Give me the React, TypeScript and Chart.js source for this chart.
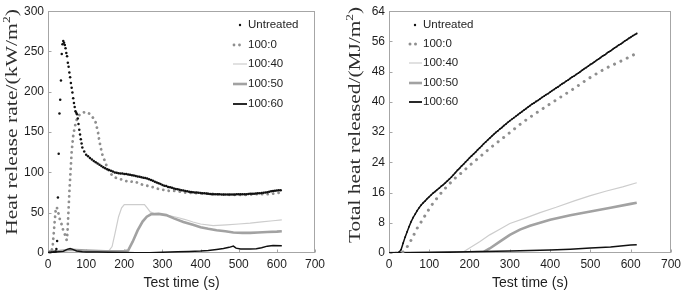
import React, { useEffect, useRef } from "react";
import { Chart, registerables } from "chart.js";
Chart.register(...registerables);

// ---------------- DATA ----------------
const SERIES_LABELS = ["Untreated", "100:0", "100:40", "100:50", "100:60"];
const X_TICK_MAX = 700;
const HRR_Y_MAX = 300;
const THR_Y_MAX = 64;

// Heat release rate (kW/m2)
const HRR_UNTREATED_T = [0, 5, 10, 15, 20, 22, 24, 26, 28, 30, 32, 34, 36, 38, 40, 42, 44, 46, 48, 50, 52, 54, 56, 58, 60, 62, 64, 66, 68, 70, 72, 74, 76, 78, 80, 82, 84, 86, 88,
  90, 95, 100, 105, 110, 115, 120, 125, 130, 135, 140, 145, 150, 155, 160, 165, 170, 175, 180, 185, 190, 195, 200, 205, 210, 215, 220, 225, 230, 235, 240, 245, 250, 255, 260, 265, 270, 275, 280, 285, 290, 295, 300,
  305, 310, 315, 320, 325, 330, 335, 340, 345, 350, 355, 360, 365, 370, 375, 380, 385, 390, 395, 400, 405, 410, 415, 420, 425, 430, 435, 440, 445, 450, 455, 460, 465, 470, 475, 480, 485, 490, 495, 500,
  505, 510, 515, 520, 525, 530, 535, 540, 545, 550, 555, 560, 565, 570, 575, 580, 585, 590, 595, 600, 605, 610];
const HRR_UNTREATED = [0, 0, 0.5, 1, 2, 5, 15, 69, 123, 173, 190, 214, 247, 259, 263, 261, 258, 254, 248, 244, 236, 231, 224, 218, 211, 205, 199, 192, 186, 181, 176, 174, 172, 167, 160, 153, 147, 141, 136,
  131, 126, 122, 120, 118, 116, 114, 112.5, 111, 109.5, 108, 106.5, 105, 104, 103, 102, 101, 100, 99.5, 99, 98.5, 98.5, 98, 98, 97.5, 97, 96.5, 96, 95.5, 95, 94.5, 94, 93.5, 93, 92.5, 91.5, 90.5, 89.5, 88.5, 87.5, 86.5, 85.5, 84.5,
  83.5, 83, 82, 81.5, 81, 80, 79.5, 79, 78.5, 78, 77.5, 77, 76.5, 76, 75.8, 75.5, 75.2, 75, 74.7, 74.5, 74.2, 74, 73.8, 73.5, 73.2, 73, 73, 73, 72.8, 72.8, 72.5, 72.5, 72.5, 72.5, 72.5, 72.5, 72.5, 72.5, 72.8, 73,
  73, 73, 73, 73, 73.2, 73.5, 73.5, 73.5, 73.8, 74, 74.2, 74.5, 74.8, 75, 75.5, 76, 76.5, 77, 77.2, 77.5, 77.8, 78];

const HRR_100_0_T = [0, 6, 9, 12, 14, 16, 18, 20, 23, 27, 31, 36, 40, 45, 49, 51, 53, 56, 59, 62, 66, 70, 75, 80, 86, 97, 108, 116, 121, 125, 128, 131, 134, 138, 143, 150, 156, 165, 174, 187, 200, 213, 227, 240, 253, 266, 280, 293, 306, 319, 332, 346, 359, 380, 400, 420, 440, 460, 487, 510, 530, 550, 575, 595, 610];
const HRR_100_0 = [0, 1, 3, 6, 18, 30, 42, 52, 57, 50, 42, 35, 28, 22, 16, 25, 45, 75, 100, 125, 145, 156, 165, 170, 173, 175, 173, 169, 166, 162, 156, 150, 141, 131, 121, 113, 105, 98, 94, 92, 90, 88, 89, 86, 84, 83, 81, 79, 78, 77, 77, 76, 75, 74.5, 74, 73.5, 73, 72.5, 72, 72, 72.5, 73, 73, 74, 75];

const HRR_100_40_T = [0, 30, 55, 65, 80, 100, 130, 160, 168, 176, 185, 193, 200, 230, 253, 260, 268, 280, 300, 320, 340, 360, 380, 400, 433, 468, 500, 530, 560, 590, 613];
const HRR_100_40 = [2, 2.5, 3.5, 4, 3.5, 3, 2.5, 3, 8, 25, 45, 56, 60, 60, 60, 56, 51, 48.5, 47.5, 46, 44, 41.5, 38.5, 36, 34, 35, 36, 37, 38.5, 40, 41];

const HRR_100_50_T = [0, 30, 60, 100, 150, 200, 210, 222, 235, 248, 259, 270, 290, 310, 330, 355, 380, 400, 420, 442, 465, 486, 510, 530, 550, 575, 600, 613];
const HRR_100_50 = [2, 2.5, 4, 3, 2, 2.5, 3, 14, 28, 39, 45, 48, 48.5, 47, 43, 38.5, 35, 32, 30, 28.3, 27, 25.5, 25, 25, 25.5, 26, 26.5, 27];

const HRR_100_60_T = [0, 20, 40, 50, 58, 65, 75, 90, 100, 130, 160, 200, 230, 267, 300, 340, 370, 400, 420, 442, 460, 475, 486, 493, 505, 530, 546, 560, 575, 590, 613];
const HRR_100_60 = [1, 1.2, 2, 4.5, 5.5, 4.5, 2.5, 1.5, 1.3, 1.2, 1, 0.6, 0.4, 0.4, 1, 1.5, 2, 2.4, 3, 4.4, 5.5, 7, 8.5, 6, 5, 5, 5.4, 6.5, 8.5, 9.3, 9];

// Total heat released (MJ/m2)
const THR_UNTREATED_T = [0, 5, 10, 15, 20, 25, 30, 35, 40, 45, 50, 55, 60, 65, 70, 75, 80, 85, 90, 95, 100,
  105, 110, 115, 120, 125, 130, 135, 140, 145, 150, 155, 160, 165, 170, 175, 180, 185, 190, 195, 200,
  205, 210, 215, 220, 225, 230, 235, 240, 245, 250, 255, 260, 265, 270, 275, 280, 285, 290, 295, 300,
  305, 310, 315, 320, 325, 330, 335, 340, 345, 350, 355, 360, 365, 370, 375, 380, 385, 390, 395, 400,
  405, 410, 415, 420, 425, 430, 435, 440, 445, 450, 455, 460, 465, 470, 475, 480, 485, 490, 495, 500,
  505, 510, 515, 520, 525, 530, 535, 540, 545, 550, 555, 560, 565, 570, 575, 580, 585, 590, 595, 600,
  605, 610, 615];
const THR_UNTREATED = [0, 0, 0, 0, 0, 0.2, 0.9, 2.6, 4.2, 5.6, 7.0, 8.3, 9.4, 10.3, 11.2, 12.0, 12.7, 13.3, 13.8, 14.4, 14.9,
  15.4, 15.9, 16.3, 16.8, 17.2, 17.7, 18.1, 18.6, 19.1, 19.6, 20.1, 20.7, 21.3, 21.9, 22.4, 23.0, 23.5, 24.1, 24.6, 25.2,
  25.7, 26.2, 26.7, 27.3, 27.8, 28.3, 28.9, 29.4, 29.9, 30.4, 30.9, 31.4, 31.9, 32.3, 32.8, 33.2, 33.7, 34.1, 34.6, 35.0,
  35.4, 35.8, 36.2, 36.6, 37.0, 37.4, 37.8, 38.2, 38.6, 39.0, 39.4, 39.7, 40.1, 40.4, 40.8, 41.2, 41.5, 41.9, 42.2, 42.6,
  43.0, 43.3, 43.7, 44.0, 44.4, 44.8, 45.1, 45.5, 45.8, 46.2, 46.6, 46.9, 47.3, 47.6, 48.0, 48.4, 48.8, 49.1, 49.5, 49.9,
  50.2, 50.6, 51.0, 51.3, 51.7, 52.1, 52.4, 52.8, 53.2, 53.5, 53.9, 54.3, 54.6, 55.0, 55.3, 55.7, 56.1, 56.4, 56.8, 57.1,
  57.5, 57.8, 58.1];

const THR_100_0_T = [0, 20, 35, 45, 57, 69, 82, 94, 106, 119, 131, 148, 164, 181, 197, 213, 250, 291, 332, 373, 415, 456, 497, 538, 580, 610];
const THR_100_0 = [0, 0, 0.3, 1.6, 3.8, 6.4, 8.6, 10.7, 12.7, 14.5, 16.1, 18.1, 19.8, 21.3, 22.9, 24.3, 27.7, 31.1, 34.6, 37.6, 40.5, 43.3, 46.3, 48.9, 51, 52.6];

const THR_100_40_T = [0, 100, 185, 200, 225, 250, 275, 300, 340, 375, 415, 460, 500, 540, 580, 615];
const THR_100_40 = [0, 0.1, 0.3, 1.3, 3, 4.8, 6.3, 7.8, 9.3, 10.7, 12.1, 13.8, 15.2, 16.4, 17.5, 18.6];

const THR_100_50_T = [0, 100, 200, 235, 250, 275, 300, 325, 350, 375, 400, 450, 500, 550, 600, 615];
const THR_100_50 = [0, 0.1, 0.2, 0.3, 1.2, 3, 4.8, 6.2, 7.2, 8, 8.8, 10, 11, 12, 13, 13.3];

const THR_100_60_T = [0, 100, 200, 300, 400, 450, 500, 550, 600, 615];
const THR_100_60 = [0, 0.1, 0.3, 0.5, 0.8, 1, 1.3, 1.6, 2.1, 2.2];

// ---------------- STYLE ----------------
const SANS = '"Liberation Sans", Arial, Helvetica, sans-serif';
const SERIF = '"Liberation Serif", "Times New Roman", Times, serif';
const TEXT = "#1e1e1e";
const TITLE = "#2e2e2e";
const FRAME = "#a6a6a6";
const C_BLACK = "#111111";
const C_DOT = "#8f8f8f";
const C_LIGHT = "#cdcdcd";
const C_MID = "#a2a2a2";

function pts(t: number[], v: number[]) {
  return t.map((x, i) => ({ x, y: v[i] }));
}

type DecoCfg = {
  yTitle: string;
  yTitleX: number;
  yTitleY: number;
  yTitleLen: number;
  xTitleY: number;
  legendYs: number[];
  sx0: number;
  sx1: number;
  textX: number;
  dotX: number;
  dotsX: number[];
  dotsR: number;
};

function makeDeco(cfg: DecoCfg) {
  return {
    id: "deco",
    beforeDatasetsDraw(chart: any) {
      const { ctx, chartArea: a, scales } = chart;
      ctx.save();
      ctx.strokeStyle = FRAME;
      ctx.lineWidth = 1;
      const L = Math.round(a.left) + 0.5;
      const R = Math.round(a.right) - 0.5;
      const T = Math.round(a.top) + 0.5;
      const B = Math.round(a.bottom) - 0.5;
      ctx.strokeRect(L, T, R - L, B - T);
      ctx.beginPath();
      scales.x.ticks.forEach((t: any) => {
        const px = Math.round(scales.x.getPixelForValue(t.value)) + 0.5;
        ctx.moveTo(px, B);
        ctx.lineTo(px, B - 3);
      });
      scales.y.ticks.forEach((t: any) => {
        const py = Math.round(scales.y.getPixelForValue(t.value)) + 0.5;
        ctx.moveTo(L, py);
        ctx.lineTo(L + 3, py);
      });
      ctx.stroke();
      ctx.restore();
    },
    afterDraw(chart: any) {
      const { ctx, chartArea: a } = chart;
      ctx.save();
      // x title
      ctx.fillStyle = TEXT;
      ctx.font = `14px ${SANS}`;
      ctx.textAlign = "center";
      ctx.textBaseline = "middle";
      ctx.fillText("Test time (s)", (a.left + a.right) / 2, cfg.xTitleY);
      // y title with superscript 2
      ctx.save();
      ctx.fillStyle = TITLE;
      ctx.translate(cfg.yTitleX, cfg.yTitleY);
      ctx.rotate(-Math.PI / 2);
      const big = `16px ${SERIF}`;
      const small = `10px ${SERIF}`;
      const p1 = cfg.yTitle;
      const p2 = "2";
      const p3 = ")";
      ctx.font = big;
      const w1 = ctx.measureText(p1).width;
      const w3 = ctx.measureText(p3).width;
      ctx.font = small;
      const w2 = ctx.measureText(p2).width;
      const total = w1 + w2 + w3;
      const s = cfg.yTitleLen / total;
      ctx.scale(s, 1);
      ctx.textAlign = "left";
      ctx.textBaseline = "alphabetic";
      let x = -total / 2;
      const base = 5.5;
      ctx.font = big;
      ctx.fillText(p1, x, base);
      x += w1;
      ctx.font = small;
      ctx.fillText(p2, x, base - 7);
      x += w2;
      ctx.font = big;
      ctx.fillText(p3, x, base);
      ctx.restore();
      // legend
      ctx.font = `11.5px ${SANS}`;
      ctx.textAlign = "left";
      ctx.textBaseline = "middle";
      SERIES_LABELS.forEach((lab, i) => {
        const y = cfg.legendYs[i];
        if (i === 0) {
          ctx.fillStyle = C_BLACK;
          ctx.beginPath();
          ctx.arc(cfg.dotX, y, 1.2, 0, Math.PI * 2);
          ctx.fill();
        } else if (i === 1) {
          ctx.fillStyle = C_DOT;
          cfg.dotsX.forEach((dx) => {
            ctx.beginPath();
            ctx.arc(dx, y, cfg.dotsR, 0, Math.PI * 2);
            ctx.fill();
          });
        } else {
          const col = i === 2 ? C_LIGHT : i === 3 ? C_MID : C_BLACK;
          const lw = i === 2 ? 1.2 : i === 3 ? 2.6 : 1.8;
          ctx.strokeStyle = col;
          ctx.lineWidth = lw;
          ctx.beginPath();
          ctx.moveTo(cfg.sx0, y);
          ctx.lineTo(cfg.sx1, y);
          ctx.stroke();
        }
        ctx.fillStyle = TEXT;
        ctx.fillText(lab, cfg.textX, y);
      });
      ctx.restore();
    },
  };
}

function buildConfig(opts: {
  sets: { t: number[]; v: number[] }[];
  yMax: number;
  yStep: number;
  padRight: number;
  yAxisW: number;
  dotGap: number;
  dotW: number;
  untreatedR: number;
  untreatedLine: number;
  deco: DecoCfg;
}): any {
  const [u, d0, d40, d50, d60] = opts.sets;
  return {
    type: "line",
    data: {
      datasets: [
        {
          label: SERIES_LABELS[0],
          order: 0,
          data: pts(u.t, u.v),
          showLine: opts.untreatedLine > 0,
          borderWidth: opts.untreatedLine,
          pointRadius: opts.untreatedR,
          pointBorderWidth: 0,
          pointBackgroundColor: C_BLACK,
          borderColor: C_BLACK,
          tension: 0,
        },
        {
          label: SERIES_LABELS[1],
          order: 1,
          data: pts(d0.t, d0.v),
          borderColor: C_DOT,
          borderWidth: opts.dotW,
          borderDash: [0.01, opts.dotGap],
          borderCapStyle: "round",
          pointRadius: 0,
          tension: 0,
        },
        {
          label: SERIES_LABELS[2],
          order: 4,
          data: pts(d40.t, d40.v),
          borderColor: C_LIGHT,
          borderWidth: 1.2,
          pointRadius: 0,
          tension: 0,
        },
        {
          label: SERIES_LABELS[3],
          order: 3,
          data: pts(d50.t, d50.v),
          borderColor: C_MID,
          borderWidth: 2.6,
          pointRadius: 0,
          tension: 0,
        },
        {
          label: SERIES_LABELS[4],
          order: 2,
          data: pts(d60.t, d60.v),
          borderColor: C_BLACK,
          borderWidth: 1.5,
          pointRadius: 0,
          tension: 0,
        },
      ],
    },
    options: {
      animation: false,
      responsive: false,
      maintainAspectRatio: false,
      events: [],
      layout: { padding: { top: 6, right: opts.padRight, left: 0, bottom: 0 } },
      plugins: { legend: { display: false }, tooltip: { enabled: false }, title: { display: false } },
      scales: {
        x: {
          type: "linear",
          min: 0,
          max: X_TICK_MAX,
          ticks: { stepSize: 100, color: TEXT, font: { family: SANS, size: 12 }, padding: 4, maxRotation: 0 },
          grid: { display: false, drawTicks: false },
          border: { display: false },
          afterFit: (s: any) => {
            s.height = 39;
          },
        },
        y: {
          type: "linear",
          min: 0,
          max: opts.yMax,
          ticks: { stepSize: opts.yStep, color: TEXT, font: { family: SANS, size: 12 }, padding: 4 },
          grid: { display: false, drawTicks: false },
          border: { display: false },
          afterFit: (s: any) => {
            s.width = opts.yAxisW;
          },
        },
      },
    },
    plugins: [makeDeco(opts.deco)],
  };
}

function ChartCanvas({ width, height, left, config }: { width: number; height: number; left: number; config: () => any }) {
  const ref = useRef<HTMLCanvasElement | null>(null);
  useEffect(() => {
    if (!ref.current) return;
    const chart = new Chart(ref.current, config());
    return () => chart.destroy();
  }, []);
  return (
    <canvas
      ref={ref}
      width={width}
      height={height}
      style={{ position: "absolute", left, top: 0, width, height }}
    />
  );
}

export default function App() {
  const leftCfg = () =>
    buildConfig({
      sets: [
        { t: HRR_UNTREATED_T, v: HRR_UNTREATED },
        { t: HRR_100_0_T, v: HRR_100_0 },
        { t: HRR_100_40_T, v: HRR_100_40 },
        { t: HRR_100_50_T, v: HRR_100_50 },
        { t: HRR_100_60_T, v: HRR_100_60 },
      ],
      yMax: HRR_Y_MAX,
      yStep: 50,
      padRight: 25,
      yAxisW: 48,
      dotGap: 5.5,
      dotW: 2.8,
      untreatedR: 1.25,
      untreatedLine: 0,
      deco: {
        yTitle: "Heat release rate/(kW/m",
        yTitleX: 11,
        yTitleY: 122,
        yTitleLen: 226,
        xTitleY: 283,
        legendYs: [25, 45, 64, 84, 104],
        sx0: 233,
        sx1: 247,
        textX: 248,
        dotX: 240,
        dotsX: [234, 239.5],
        dotsR: 1.4,
      },
    });
  const rightCfg = () =>
    buildConfig({
      sets: [
        { t: THR_UNTREATED_T, v: THR_UNTREATED },
        { t: THR_100_0_T, v: THR_100_0 },
        { t: THR_100_40_T, v: THR_100_40 },
        { t: THR_100_50_T, v: THR_100_50 },
        { t: THR_100_60_T, v: THR_100_60 },
      ],
      yMax: THR_Y_MAX,
      yStep: 8,
      padRight: 12,
      yAxisW: 49,
      dotGap: 7,
      dotW: 3,
      untreatedR: 0.9,
      untreatedLine: 1.5,
      deco: {
        yTitle: "Total heat released/(MJ/m",
        yTitleX: 14,
        yTitleY: 125,
        yTitleLen: 236,
        xTitleY: 283,
        legendYs: [25, 44, 63, 83, 102],
        sx0: 69,
        sx1: 82,
        textX: 83,
        dotX: 75,
        dotsX: [70, 75.5],
        dotsR: 1.5,
      },
    });
  return (
    <div style={{ position: "absolute", left: 0, top: 0, width: 685, height: 292, background: "#fff" }}>
      <ChartCanvas width={340} height={292} left={0} config={leftCfg} />
      <ChartCanvas width={345} height={292} left={340} config={rightCfg} />
    </div>
  );
}
